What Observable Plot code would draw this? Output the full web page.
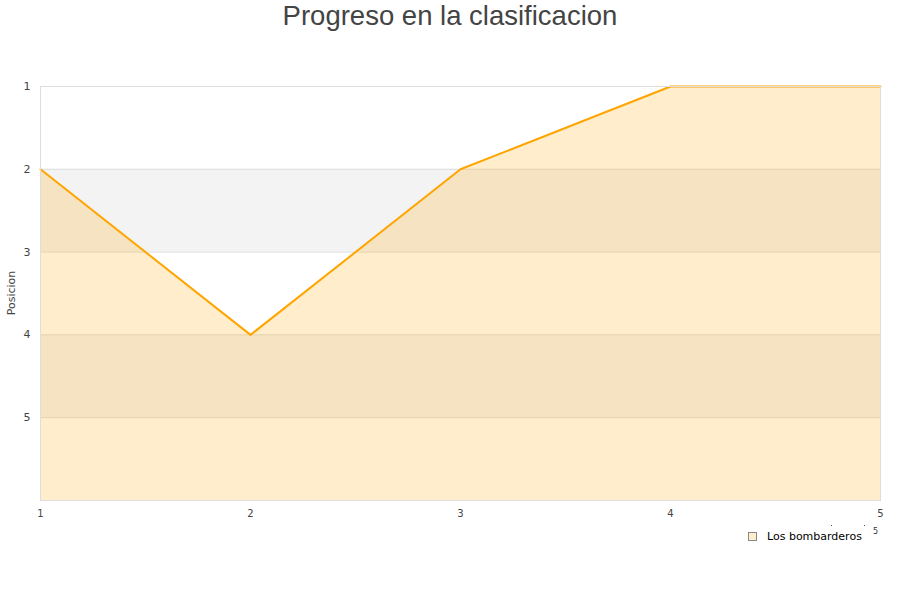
<!DOCTYPE html>
<html><head><meta charset="utf-8">
<script src="https://cdn.jsdelivr.net/npm/d3@7"></script>
<script src="https://cdn.jsdelivr.net/npm/@observablehq/plot@0.6"></script>
<style>
body{margin:0;background:#fff;font-family:"Liberation Sans",Arial,sans-serif;}
#wrap{position:relative;width:900px;height:600px;}
#title{position:absolute;left:0;top:0;width:900px;text-align:center;font-size:27.5px;color:#444;line-height:32px;}
#ylab{position:absolute;left:11px;top:293px;transform:translate(-50%,-50%) rotate(-90deg);font-family:"DejaVu Sans",sans-serif;font-size:11px;color:#444;white-space:nowrap;}
#legend{position:absolute;left:748px;top:530px;font-family:"DejaVu Sans",sans-serif;font-size:11px;color:#000;display:flex;align-items:center;}
#legend span.sw{display:inline-block;width:7px;height:7px;background:#ffedcc;border:1px solid #888;margin-right:10px;}
#tiny{position:absolute;left:873px;top:527px;font-family:"DejaVu Sans",sans-serif;font-size:8px;color:#333;}
.dot{position:absolute;width:1px;height:1px;background:#555;}
svg{position:absolute;left:0;top:0;}
</style></head>
<body><div id="wrap">
<div id="title"></div>
<div id="ylab"></div>
<div id="legend"><span class="sw"></span><span id="lt"></span></div>
<div id="tiny">5</div>
<div class="dot" style="left:831px;top:525px"></div>
<div class="dot" style="left:864px;top:525px"></div>
</div>
<script>
const titleText = "Progreso en la clasificacion";
const yLabel = "Posicion";
const seriesName = "Los bombarderos";
const jornadas = [1, 2, 3, 4, 5];
const posiciones = [2, 4, 2, 1, 1];
const yTicks = [1, 2, 3, 4, 5];
const yDomain = [1, 6];
const bandStarts = [2, 4];

document.getElementById("title").textContent = titleText;
document.getElementById("ylab").textContent = yLabel;
document.getElementById("lt").textContent = seriesName;

const data = jornadas.map((j, i) => ({j, p: posiciones[i]}));
const bands = bandStarts.map(b => ({y1: b, y2: b + 1}));

const chart = Plot.plot({
  width: 900, height: 600,
  marginTop: 86, marginBottom: 100, marginLeft: 40, marginRight: 20,
  style: {fontFamily: "DejaVu Sans, sans-serif", fontSize: "11px", color: "#444", background: "transparent"},
  x: {domain: [1, 5], ticks: jornadas, tickFormat: d => String(d), label: null},
  y: {domain: yDomain, reverse: true, ticks: yTicks, tickFormat: d => String(d), label: null},
  marks: [
    Plot.rect(bands, {x1: jornadas[0], x2: jornadas[jornadas.length-1], y1: "y1", y2: "y2", fill: "#f3f3f3"}),
    Plot.gridY(yTicks, {stroke: "#dddddd", strokeOpacity: 1}),
    Plot.areaY(data, {x: "j", y1: yDomain[1], y2: "p", fill: "orange", fillOpacity: 0.2}),
    Plot.lineY(data, {x: "j", y: "p", stroke: "#ffa500", strokeWidth: 2}),
    Plot.frame({stroke: "#dddddd"}),
    Plot.axisY({ticks: yTicks, tickSize: 0, tickPadding: 10, fontSize: 11, fill: "#444", label: null, tickFormat: d => String(d)}),
    Plot.axisX({ticks: jornadas, tickSize: 0, tickPadding: 9, fontSize: 10, fill: "#444", label: null, tickFormat: d => String(d)})
  ]
});
document.getElementById("wrap").appendChild(chart);
</script>
</body></html>
